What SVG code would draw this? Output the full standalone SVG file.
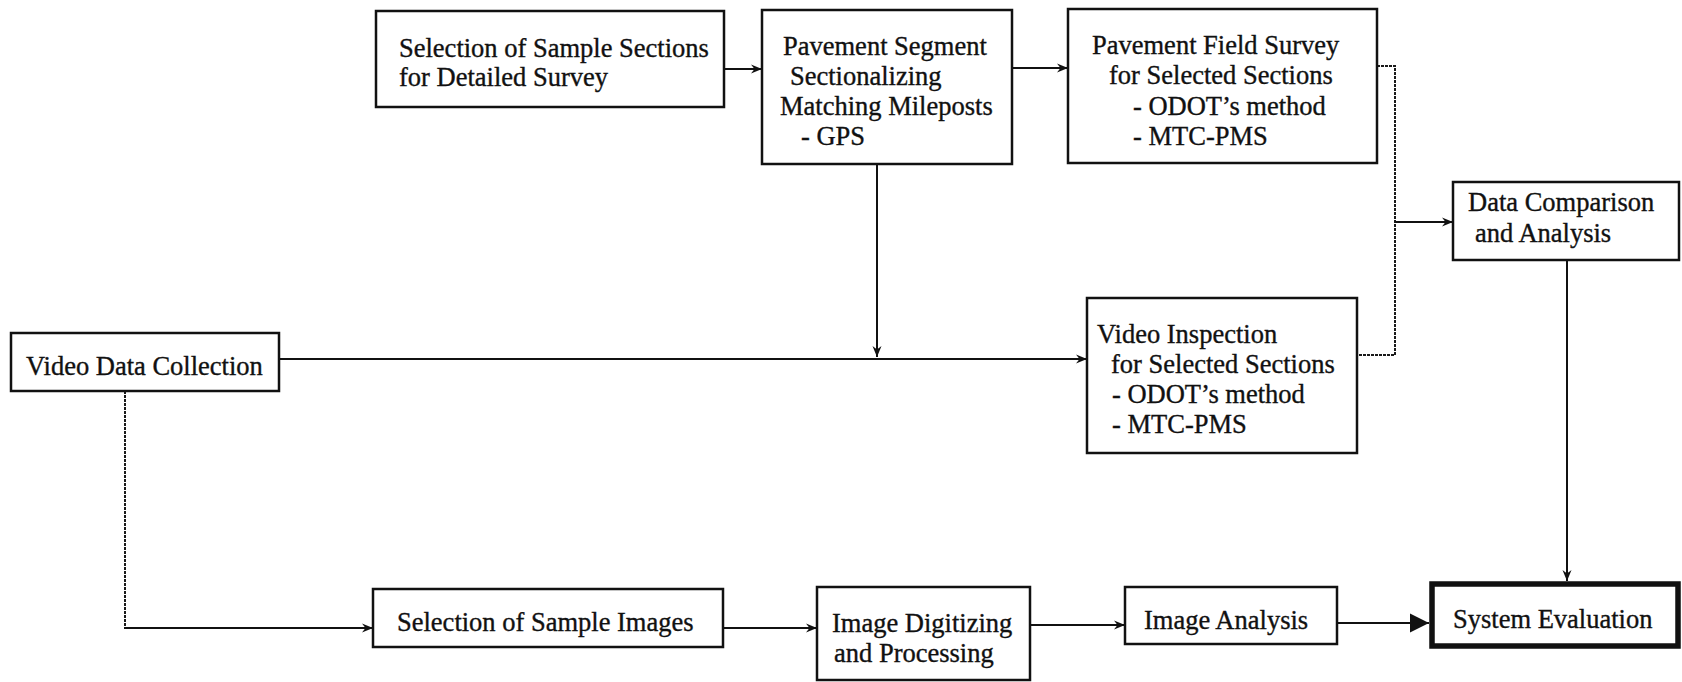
<svg xmlns="http://www.w3.org/2000/svg" width="1682" height="682" viewBox="0 0 1682 682">
  <style>
    .box { fill: #ffffff; stroke: #111111; stroke-width: 2.5; }
    .bold { fill: #ffffff; stroke: #111111; stroke-width: 5.5; }
    .lbl { font-family: "Liberation Serif", "Times New Roman", serif; font-size: 26.5px; fill: #111111; stroke: #111111; stroke-width: 0.35; }
    .wire { fill: none; stroke: #111111; stroke-width: 2; }
    .dot { fill: none; stroke: #1a1a1a; stroke-width: 2; stroke-dasharray: 3 1; }
  </style>
  <defs>
    <marker id="tip" markerUnits="userSpaceOnUse" markerWidth="12" markerHeight="10" refX="11" refY="5" orient="auto">
      <path d="M0,0.5 L11,5 L0,9.5 L3.5,5 Z" fill="#111111"/>
    </marker>
    <marker id="bigtip" markerUnits="userSpaceOnUse" markerWidth="20" markerHeight="20" refX="19" refY="10" orient="auto">
      <path d="M0,0.5 L19,10 L0,19.5 Z" fill="#111111"/>
    </marker>
  </defs>

  <rect width="1682" height="682" fill="#ffffff"/>

  <!-- connectors -->
  <g id="connectors">
    <path class="wire" d="M724,69 H762" marker-end="url(#tip)"/>
    <path class="wire" d="M1012,68 H1068" marker-end="url(#tip)"/>
    <path class="wire" d="M877,164 V357" marker-end="url(#tip)"/>
    <path class="wire" d="M279,359 H1087" marker-end="url(#tip)"/>
    <path class="dot" d="M1377,66 H1395 V355 H1357"/>
    <path class="wire" d="M1395,222 H1453" marker-end="url(#tip)"/>
    <path class="wire" d="M1567,260 V581" marker-end="url(#tip)"/>
    <path class="dot" d="M125,391 V628"/>
    <path class="wire" d="M124,628 H373" marker-end="url(#tip)"/>
    <path class="wire" d="M723,628 H817" marker-end="url(#tip)"/>
    <path class="wire" d="M1030,625 H1125" marker-end="url(#tip)"/>
    <path class="wire" d="M1337,623 H1429" marker-end="url(#bigtip)"/>
  </g>

  <g id="sel-sections">
    <rect class="box" x="376" y="11" width="348" height="96"/>
    <text class="lbl" x="399" y="57">Selection of Sample Sections</text>
    <text class="lbl" x="399" y="86">for Detailed Survey</text>
  </g>

  <g id="segmenting">
    <rect class="box" x="762" y="10" width="250" height="154"/>
    <text class="lbl" x="783" y="55">Pavement Segment</text>
    <text class="lbl" x="790" y="85">Sectionalizing</text>
    <text class="lbl" x="780" y="115">Matching Mileposts</text>
    <text class="lbl" x="801" y="145">- GPS</text>
  </g>

  <g id="field-survey">
    <rect class="box" x="1068" y="9" width="309" height="154"/>
    <text class="lbl" x="1092" y="54">Pavement Field Survey</text>
    <text class="lbl" x="1109" y="84">for Selected Sections</text>
    <text class="lbl" x="1133" y="115">- ODOT’s method</text>
    <text class="lbl" x="1133" y="145">- MTC-PMS</text>
  </g>

  <g id="data-comparison">
    <rect class="box" x="1453" y="182" width="226" height="78"/>
    <text class="lbl" x="1468" y="211">Data Comparison</text>
    <text class="lbl" x="1475" y="242">and Analysis</text>
  </g>

  <g id="video-collection">
    <rect class="box" x="11" y="333" width="268" height="58"/>
    <text class="lbl" x="26" y="375">Video Data Collection</text>
  </g>

  <g id="video-inspection">
    <rect class="box" x="1087" y="298" width="270" height="155"/>
    <text class="lbl" x="1097" y="343">Video Inspection</text>
    <text class="lbl" x="1111" y="373">for Selected Sections</text>
    <text class="lbl" x="1112" y="403">- ODOT’s method</text>
    <text class="lbl" x="1112" y="433">- MTC-PMS</text>
  </g>

  <g id="sel-images">
    <rect class="box" x="373" y="589" width="350" height="58"/>
    <text class="lbl" x="397" y="631">Selection of Sample Images</text>
  </g>

  <g id="digitizing">
    <rect class="box" x="817" y="587" width="213" height="93"/>
    <text class="lbl" x="832" y="632">Image Digitizing</text>
    <text class="lbl" x="834" y="662">and Processing</text>
  </g>

  <g id="image-analysis">
    <rect class="box" x="1125" y="587" width="212" height="57"/>
    <text class="lbl" x="1144" y="629">Image Analysis</text>
  </g>

  <g id="system-evaluation">
    <rect class="bold" x="1432" y="584" width="246" height="62"/>
    <text class="lbl" x="1453" y="628">System Evaluation</text>
  </g>
</svg>
